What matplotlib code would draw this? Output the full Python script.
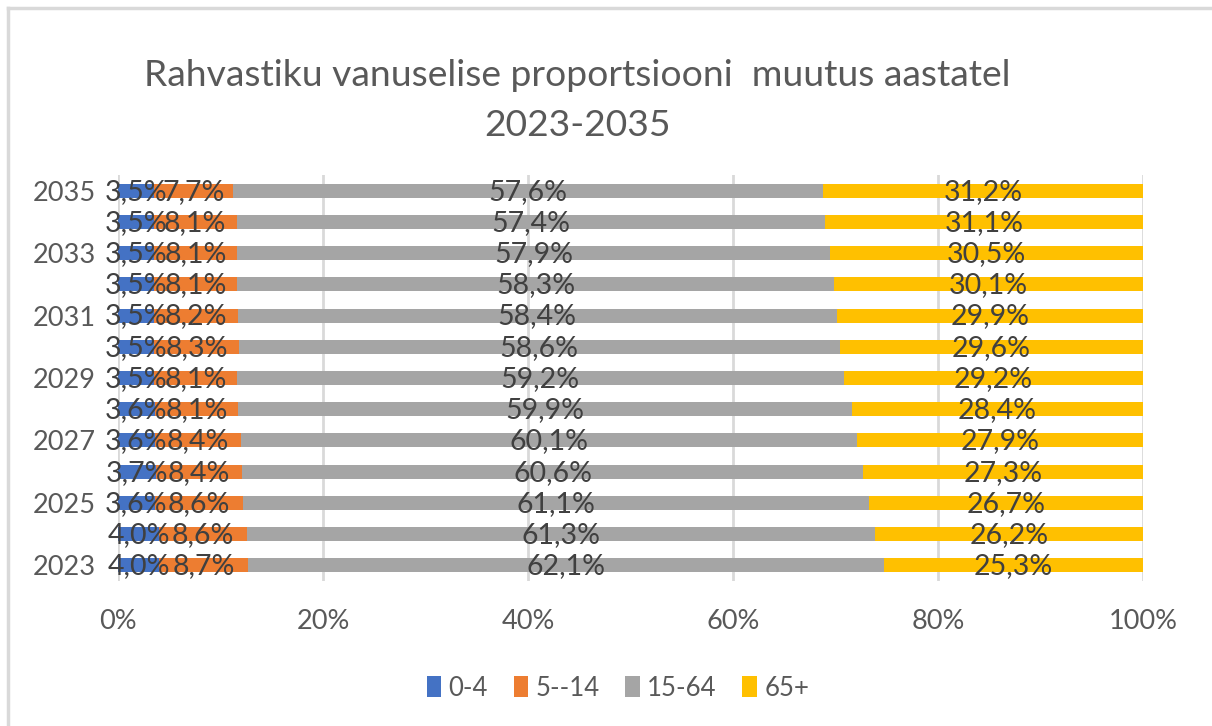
import matplotlib.pyplot as plt
from matplotlib.ticker import FuncFormatter
import numpy as np

plt.rcParams['font.family'] = ['Lato', 'DejaVu Sans']

years = ['2023', '2024', '2025', '2026', '2027', '2028', '2029',
         '2030', '2031', '2032', '2033', '2034', '2035']
age_0_4 = [4.0, 4.0, 3.6, 3.7, 3.6, 3.6, 3.5, 3.5, 3.5, 3.5, 3.5, 3.5, 3.5]
age_5_14 = [8.7, 8.6, 8.6, 8.4, 8.4, 8.1, 8.1, 8.3, 8.2, 8.1, 8.1, 8.1, 7.7]
age_15_64 = [62.1, 61.3, 61.1, 60.6, 60.1, 59.9, 59.2, 58.6, 58.4, 58.3, 57.9, 57.4, 57.6]
age_65 = [25.3, 26.2, 26.7, 27.3, 27.9, 28.4, 29.2, 29.6, 29.9, 30.1, 30.5, 31.1, 31.2]
groups = ['0-4', '5--14', '15-64', '65+']
colors = ['#4472C4', '#ED7D31', '#A5A5A5', '#FFC000']

series = [age_0_4, age_5_14, age_15_64, age_65]
data = np.array(series)
shares = data / data.sum(axis=0) * 100

fig = plt.figure(figsize=(12.12, 7.26), dpi=100)
ax = fig.add_axes([118 / 1212, 1 - 581 / 726, 1025 / 1212, 406 / 726])

y = np.arange(len(years))
left = np.zeros(len(years))
for i in range(len(groups)):
    ax.barh(y, shares[i], left=left, height=0.45, color=colors[i],
            label=groups[i], zorder=2)
    for j in range(len(years)):
        ax.text(left[j] + shares[i][j] / 2, y[j] - 0.03,
                f'{series[i][j]:.1f}%'.replace('.', ','),
                ha='center', va='center', fontsize=20.5, color='#404040', zorder=3)
    left = left + shares[i]

ax.set_xlim(0, 100)
ax.set_ylim(-0.5, len(years) - 0.5)
ax.set_xticks([0, 20, 40, 60, 80, 100])
ax.xaxis.set_major_formatter(FuncFormatter(lambda v, p: f'{v:.0f}%'))
ax.set_yticks(y)
ax.set_yticklabels([yr if k % 2 == 0 else '' for k, yr in enumerate(years)])
ax.tick_params(axis='both', length=0, labelsize=19.5, labelcolor='#595959')
ax.tick_params(axis='x', pad=20)
ax.tick_params(axis='y', pad=16)
ax.grid(axis='x', color='#D9D9D9', linewidth=2, zorder=0)
for s in ax.spines.values():
    s.set_visible(False)

fig.text(577 / 1212, 1 - 75 / 726, 'Rahvastiku vanuselise proportsiooni  muutus aastatel',
         ha='center', va='center', fontsize=26.8, color='#595959')
fig.text(577 / 1212, 1 - 125 / 726, '2023-2035',
         ha='center', va='center', fontsize=26.8, color='#595959')

fig.legend(loc='center', bbox_to_anchor=(618 / 1212, 1 - 688 / 726), ncol=4,
           frameon=False, fontsize=18.5, labelcolor='#595959', handlelength=0.55,
           handleheight=0.9, handletextpad=0.3, columnspacing=1.0)

# chart border (top and left edges visible in the crop)
fig.add_artist(plt.Line2D([8 / 1212, 1], [1 - 8 / 726, 1 - 8 / 726],
                          transform=fig.transFigure, color='#D9D9D9', linewidth=2.5))
fig.add_artist(plt.Line2D([8 / 1212, 8 / 1212], [0, 1 - 8 / 726],
                          transform=fig.transFigure, color='#D9D9D9', linewidth=2.5))

fig.savefig('out.png', dpi=100)
